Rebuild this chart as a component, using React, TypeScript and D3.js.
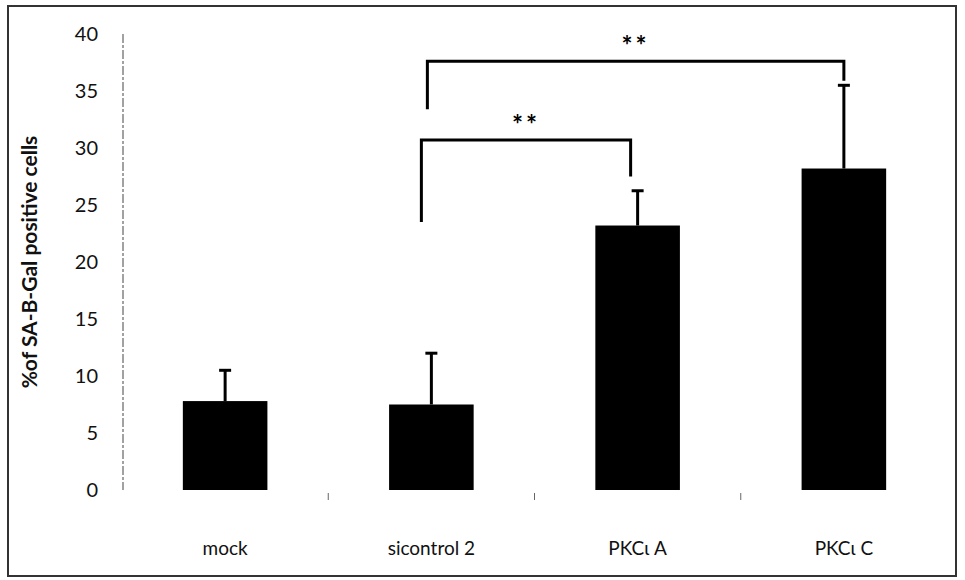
import React from "react";
import * as d3 from "d3";

const categories = ["mock", "sicontrol 2", "PKCι A", "PKCι C"];
const means = [7.8, 7.5, 23.2, 28.2];
const errors = [2.7, 4.5, 3.05, 7.3];
const yTicks = [0, 5, 10, 15, 20, 25, 30, 35, 40];

// significance brackets: from/to category index, top level, leg ends, label
const brackets = [
  { from: 1, to: 2, top: 30.7, leftEnd: 23.5, rightEnd: 27.5, dxL: -10, dxR: -7, label: "**" },
  { from: 1, to: 3, top: 37.6, leftEnd: 33.4, rightEnd: 35.9, dxL: -4, dxR: 0, label: "**" },
];

const W = 965;
const H = 580;
const font = "Lato, 'Open Sans', sans-serif";

export default function App() {
  const x = d3.scaleBand().domain(categories).range([122, 947]).paddingInner(0.59).paddingOuter(0.295);
  const y = d3.scaleLinear().domain([0, 40]).range([490, 34]);
  const bw = x.bandwidth();
  const step = x.step();
  const cx = (i: number) => (x(categories[i]) as number) + bw / 2;

  return (
    <svg width={W} height={H} style={{ position: "absolute", left: 0, top: 0, background: "#fff" }}>
      <rect x={8} y={6} width={948} height={570} fill="none" stroke="#333" strokeWidth={2} />

      {/* y axis */}
      <line x1={123} x2={123} y1={y(40)} y2={y(0)} stroke="#444" strokeWidth={1} strokeDasharray="9,2,3,2" />
      {yTicks.map((t) => (
        <text key={t} x={98} y={y(t)} dy="0.35em" textAnchor="end" fontFamily={font} fontSize={20} fill="#111">
          {t}
        </text>
      ))}
      <text
        transform={`translate(37,${(y(0) + y(40)) / 2}) rotate(-90)`}
        textAnchor="middle"
        fontFamily={font}
        fontWeight="bold"
        fontSize={21}
        fill="#111"
      >
        %of SA-B-Gal positive cells
      </text>

      {/* category boundary ticks */}
      {categories.slice(1).map((c) => (
        <line
          key={c}
          x1={(x(c) as number) - (step - bw) / 2}
          x2={(x(c) as number) - (step - bw) / 2}
          y1={y(0) + 3}
          y2={y(0) + 10}
          stroke="#666"
        />
      ))}

      {/* bars */}
      {categories.map((c, i) => (
        <rect key={c} x={x(c)} y={y(means[i])} width={bw} height={y(0) - y(means[i])} fill="#000" />
      ))}

      {/* error bars */}
      {categories.map((c, i) => (
        <g key={c} stroke="#000" strokeWidth={3}>
          <line x1={cx(i)} x2={cx(i)} y1={y(means[i])} y2={y(means[i] + errors[i])} />
          <line x1={cx(i) - 6} x2={cx(i) + 6} y1={y(means[i] + errors[i])} y2={y(means[i] + errors[i])} />
        </g>
      ))}

      {/* x labels */}
      {categories.map((c, i) => (
        <text key={c} x={cx(i)} y={548} dy="0.35em" textAnchor="middle" fontFamily={font} fontSize={19} fill="#111">
          {c}
        </text>
      ))}

      {/* significance brackets */}
      {brackets.map((b, k) => {
        const xl = cx(b.from) + b.dxL;
        const xr = cx(b.to) + b.dxR;
        return (
          <g key={k}>
            <path
              d={`M${xl},${y(b.leftEnd)}V${y(b.top)}H${xr}V${y(b.rightEnd)}`}
              fill="none"
              stroke="#000"
              strokeWidth={3}
            />
            <text
              x={(xl + xr) / 2}
              y={y(b.top) - 6}
              textAnchor="middle"
              fontFamily={font}
              fontWeight="bold"
              fontSize={26}
              letterSpacing={3}
              fill="#000"
            >
              {b.label}
            </text>
          </g>
        );
      })}
    </svg>
  );
}
